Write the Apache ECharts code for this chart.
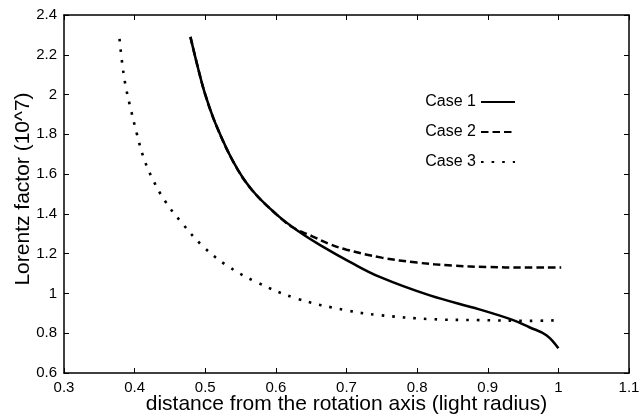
<!DOCTYPE html>
<html>
<head>
<meta charset="utf-8">
<script src="https://cdn.jsdelivr.net/npm/echarts@6/dist/echarts.min.js"></script>
<style>html,body{margin:0;padding:0;background:#fff}#c{width:642px;height:415px}</style>
</head>
<body>
<div id="c"></div>
<script>
// x ticks / y ticks
const xTicks = [0.3, 0.4, 0.5, 0.6, 0.7, 0.8, 0.9, 1, 1.1];
const yTicks = [0.6, 0.8, 1, 1.2, 1.4, 1.6, 1.8, 2, 2.2, 2.4];
const seriesNames = ['Case 1', 'Case 2', 'Case 3'];

// Case 1 (solid)
const case1X = [0.479, 0.49, 0.50, 0.515, 0.54, 0.565, 0.600, 0.633, 0.667, 0.704, 0.747, 0.818, 0.888, 0.936, 0.959, 0.983, 1.0];
const case1Y = [2.29, 2.13, 2.0, 1.85, 1.66, 1.525, 1.40, 1.31, 1.234, 1.16, 1.083, 0.99, 0.92, 0.866, 0.83, 0.79, 0.724];

// Case 2 (dashed)
const case2X = [0.479, 0.49, 0.50, 0.515, 0.54, 0.565, 0.600, 0.625, 0.65, 0.675, 0.70, 0.75, 0.80, 0.85, 0.90, 0.95, 1.004];
const case2Y = [2.29, 2.13, 2.0, 1.85, 1.66, 1.525, 1.40, 1.33, 1.29, 1.25, 1.22, 1.18, 1.155, 1.14, 1.133, 1.13, 1.13];

// Case 3 (dotted)
const case3X = [0.3786, 0.383, 0.388, 0.395, 0.403, 0.412, 0.4235, 0.442, 0.468, 0.497, 0.530, 0.572, 0.629, 0.70, 0.747, 0.818, 0.888, 0.959, 1.002];
const case3Y = [2.28, 2.14, 2.03, 1.92, 1.805, 1.69, 1.59, 1.47, 1.35, 1.236, 1.142, 1.058, 0.975, 0.915, 0.891, 0.871, 0.866, 0.862, 0.866];

const zip = (xs, ys) => xs.map((x, i) => [x, ys[i]]);

const FONT = 'Liberation Sans, Arial, Helvetica, sans-serif';
const axisLineStyle = { color: '#000', width: 1.5 };

const chart = echarts.init(document.getElementById('c'), null, { renderer: 'canvas' });
const baseX = {
  type: 'value', min: xTicks[0], max: xTicks[xTicks.length - 1], interval: 0.1,
  splitLine: { show: false },
  axisLine: { show: true, onZero: false, lineStyle: axisLineStyle },
  axisTick: { show: true, inside: true, length: 5, lineStyle: { color: '#000', width: 1 } }
};
const baseY = {
  type: 'value', min: yTicks[0], max: yTicks[yTicks.length - 1], interval: 0.2,
  splitLine: { show: false },
  axisLine: { show: true, onZero: false, lineStyle: axisLineStyle },
  axisTick: { show: true, inside: true, length: 5, lineStyle: { color: '#000', width: 1 } }
};

const lineStyles = [
  { color: '#000', width: 2.5, type: 'solid' },
  { color: '#000', width: 2.5, type: [7.5, 4] },
  { color: '#000', width: 2.6, type: [2.6, 8] }
];
const datas = [zip(case1X, case1Y), zip(case2X, case2Y), zip(case3X, case3Y)];

chart.setOption({
  animation: false,
  backgroundColor: '#fff',
  grid: { left: 64, right: 13, top: 15, bottom: 42, containLabel: false, outerBoundsMode: 'none' },
  legend: {
    orient: 'vertical', right: 121, top: 89, align: 'right',
    itemWidth: 34, itemHeight: 14, itemGap: 14,
    itemStyle: { opacity: 0 },
    textStyle: { fontFamily: FONT, fontSize: 16, color: '#000', lineHeight: 16 },
    data: seriesNames
  },
  xAxis: [
    Object.assign({}, baseX, {
      position: 'bottom',
      name: 'distance from the rotation axis (light radius)',
      nameLocation: 'middle', nameGap: 21, nameMoveOverlap: false,
      nameTextStyle: { fontFamily: FONT, fontSize: 21, color: '#000' },
      axisLabel: { show: true, margin: 7, fontFamily: FONT, fontSize: 15, color: '#000',
        formatter: v => String(Math.round(v * 10) / 10) }
    }),
    Object.assign({}, baseX, { position: 'top', axisLabel: { show: false } })
  ],
  yAxis: [
    Object.assign({}, baseY, {
      position: 'left',
      name: 'Lorentz factor (10^7)',
      nameLocation: 'middle', nameGap: 30, nameMoveOverlap: false,
      nameTextStyle: { fontFamily: FONT, fontSize: 21, color: '#000', padding: [0, 0, 0, 10] },
      axisLabel: { show: true, margin: 7, fontFamily: FONT, fontSize: 15, color: '#000',
        formatter: v => String(Math.round(v * 10) / 10) }
    }),
    Object.assign({}, baseY, { position: 'right', axisLabel: { show: false } })
  ],
  series: seriesNames.map((n, i) => ({
    name: n, type: 'line', xAxisIndex: 0, yAxisIndex: 0,
    data: datas[i], showSymbol: false, symbol: 'none',
    smooth: 0.4,
    lineStyle: lineStyles[i], itemStyle: { color: '#000' }, z: 3 - i
  }))
});
</script>
</body>
</html>
